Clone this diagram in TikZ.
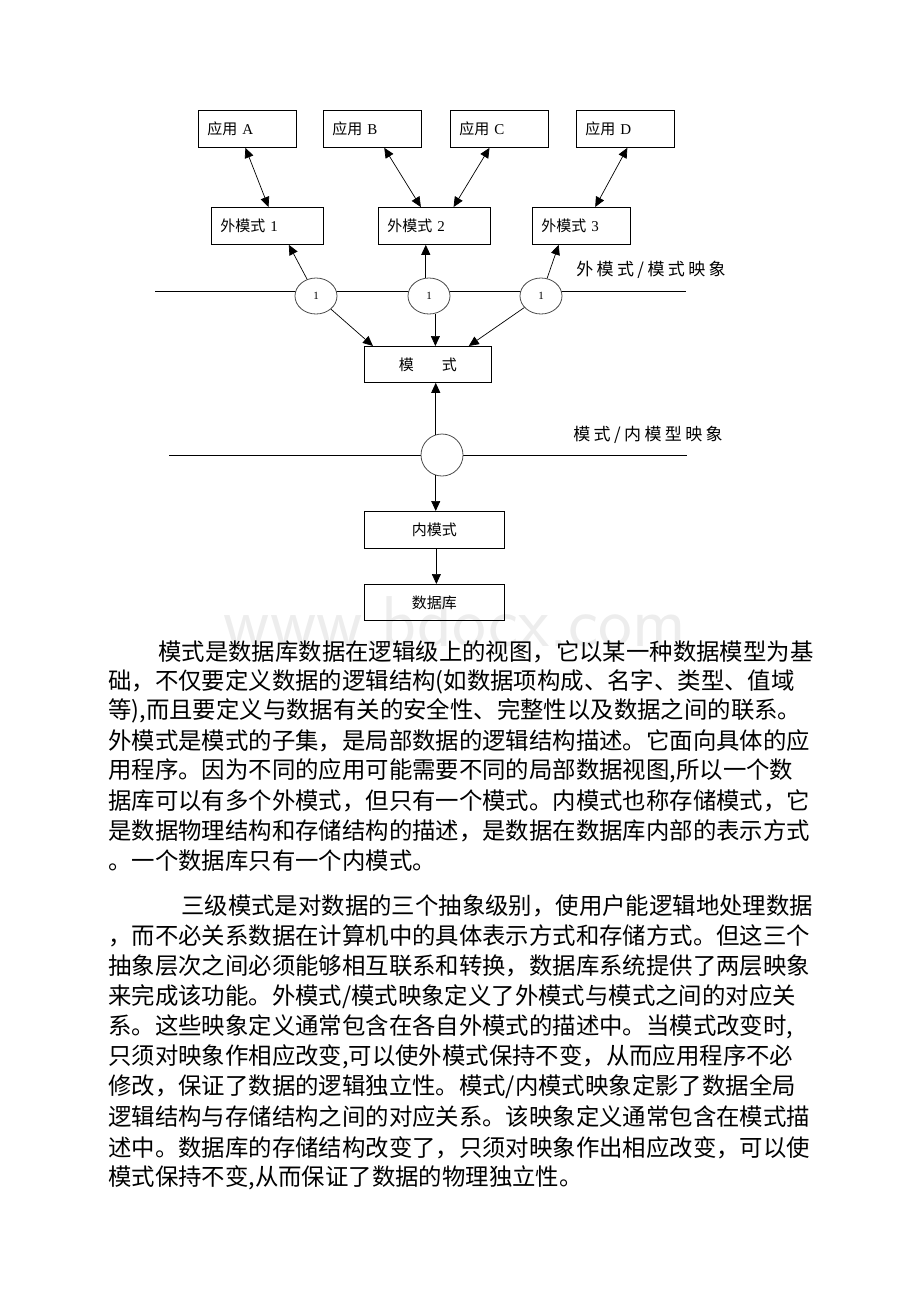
\documentclass[tikz,border=0pt]{standalone}
\usepackage{fontspec}
\setmainfont{Liberation Serif}
\newfontfamily\cjk{Noto Sans CJK SC}
\newfontfamily\cjklbl[LetterSpace=20]{Noto Sans CJK SC}
\usetikzlibrary{arrows.meta,calc,shapes.geometric}
% stretchable glue between CJK characters, for justified lines
\XeTeXinterchartoks 1 1 = {\hskip 0pt plus 1pt\relax}
\XeTeXinterchartoks 1 2 = {\hskip 0pt plus 1pt\relax}
\XeTeXinterchartoks 1 3 = {\hskip 0pt plus 1pt\relax}
\XeTeXinterchartoks 3 1 = {\hskip 0pt plus 1pt\relax}
\XeTeXinterchartoks 3 2 = {\hskip 0pt plus 1pt\relax}
\XeTeXinterchartoks 3 3 = {\hskip 0pt plus 1pt\relax}
\XeTeXinterchartoks 0 1 = {\hskip 0pt plus 1pt\relax}
\XeTeXinterchartoks 1 0 = {\hskip 0pt plus 1pt\relax}
\XeTeXinterchartoks 0 3 = {\hskip 0pt plus 1pt\relax}
\XeTeXinterchartoks 3 0 = {\hskip 0pt plus 1pt\relax}
\newcommand\parafont{\XeTeXinterchartokenstate=1 \cjk\fontsize{23.4}{23.4}\selectfont}
\newcommand\jline[2]{\hbox to #1{#2}}

\begin{document}
\begin{tikzpicture}[x=1pt,y=-1pt,
    box/.style={draw, line width=0.8pt, anchor=north west, inner xsep=9pt, inner ysep=0pt,
      minimum height=37pt, font=\cjk\fontsize{15}{15}\selectfont},
    map/.style={draw=black!70, fill=white, ellipse, inner sep=0pt, line width=0.8pt,
      minimum width=42pt, minimum height=36pt, font=\fontsize{11}{11}\selectfont},
    arr/.style={line width=0.7pt, -{Triangle[length=10pt,width=9pt]}},
    biarr/.style={line width=0.7pt, {Triangle[length=10pt,width=9pt]}-{Triangle[length=10pt,width=9pt]}},
    para/.style={anchor=west, inner sep=0pt, font=\parafont}]
  \useasboundingbox (0,0) rectangle (920,1302);

  % watermark
  \node[text=black!7, font=\sffamily\fontsize{72}{72}\selectfont] (wm) at (455,622) {www.bdocx.com};

  % applications
  \node[box, text width=80pt, align=left] (appA) at (198,110) {应用 {\rmfamily A}};
  \node[box, text width=80pt, align=left] (appB) at (323,110) {应用 {\rmfamily B}};
  \node[box, text width=80pt, align=left] (appC) at (450,110) {应用 {\rmfamily C}};
  \node[box, text width=80pt, align=left] (appD) at (576,110) {应用 {\rmfamily D}};

  % external schemas
  \node[box, text width=94pt, align=left] (ext1) at (211,207) {外模式 {\rmfamily 1}};
  \node[box, text width=94pt, align=left] (ext2) at (378,207) {外模式 {\rmfamily 2}};
  \node[box, text width=80pt, align=left] (ext3) at (532,207) {外模式 {\rmfamily 3}};

  % schema, internal schema, database
  \node[box, text width=109pt, align=center, minimum height=36pt] (schema) at (364,346) {模\hspace{28pt}式};
  \node[box, text width=122pt, align=center] (inner) at (364,511) {内模式};
  \node[box, text width=122pt, align=center, minimum height=36pt] (db) at (364,584) {数据库};

  % mapping lines
  \coordinate (l1a) at (155,291);
  \coordinate (l1b) at (686,291);
  \coordinate (l2a) at (169,455);
  \coordinate (l2b) at (687,455);
  \draw[line width=0.8pt] (l1a) -- (l1b);
  \draw[line width=0.8pt] (l2a) -- (l2b);
  \node[font=\cjklbl\fontsize{17}{17}\selectfont] (lbl1) at (651,270) {外模式/模式映象};
  \node[font=\cjklbl\fontsize{17}{17}\selectfont] (lbl2) at (648,435) {模式/内模型映象};

  \node[map] (m1) at (316,296) {1};
  \node[map] (m2) at (429,296) {1};
  \node[map] (m3) at (541,296) {1};
  \node[map, minimum height=42pt] (m4) at (442,455) {};

  % applications <-> external schemas
  \draw[biarr] ($(appA.south west)!.48!(appA.south east)$) -- ($(ext1.north west)!.51!(ext1.north east)$);
  \draw[biarr] ($(appB.south west)!.62!(appB.south east)$) -- ($(ext2.north west)!.38!(ext2.north east)$);
  \draw[biarr] ($(appC.south west)!.40!(appC.south east)$) -- ($(ext2.north west)!.67!(ext2.north east)$);
  \draw[biarr] ($(appD.south west)!.52!(appD.south east)$) -- ($(ext3.north west)!.64!(ext3.north east)$);

  % external/schema mapping
  \draw[arr] (m1) -- ($(ext1.south west)!.69!(ext1.south east)$);
  \draw[arr] (m2.100) -- (m2.100 |- ext2.south);
  \draw[arr] (m3) -- ($(ext3.south west)!.27!(ext3.south east)$);
  \draw[arr] (m1) -- ($(schema.north west)!.07!(schema.north east)$);
  \draw[arr] (m2.-70) -- (m2.-70 |- schema.north);
  \draw[arr] (m3) -- ($(schema.north west)!.82!(schema.north east)$);

  % schema/internal mapping
  \draw[arr] (m4.107) -- (m4.107 |- schema.south);
  \draw[arr] (m4.-107) -- (m4.-107 |- inner.north);
  \draw[arr] ($(inner.south west)!.514!(inner.south east)$) -- ($(db.north west)!.514!(db.north east)$);

  % text
  \node[para] (pa1) at (158,652) {\jline{645pt}{模式是数据库数据在逻辑级上的视图，它以某一种数据模型为基}};
  \node[para] (pa2) at (108,682) {\jline{684pt}{础，不仅要定义数据的逻辑结构(如数据项构成、名字、类型、值域}};
  \node[para] (pa3) at (108,711) {\jline{684pt}{等),而且要定义与数据有关的安全性、完整性以及数据之间的联系。}};
  \node[para] (pa4) at (108,741) {\jline{692pt}{外模式是模式的子集，是局部数据的逻辑结构描述。它面向具体的应}};
  \node[para] (pa5) at (108,771) {\jline{684pt}{用程序。因为不同的应用可能需要不同的局部数据视图,所以一个数}};
  \node[para] (pa6) at (108,801) {\jline{692pt}{据库可以有多个外模式，但只有一个模式。内模式也称存储模式，它}};
  \node[para] (pa7) at (108,831) {\jline{692pt}{是数据物理结构和存储结构的描述，是数据在数据库内部的表示方式}};
  \node[para] (pa8) at (108,861) {。一个数据库只有一个内模式。};

  \node[para] (pb1) at (181,906) {\jline{624pt}{三级模式是对数据的三个抽象级别，使用户能逻辑地处理数据}};
  \node[para] (pb2) at (108,936) {\jline{694pt}{，而不必关系数据在计算机中的具体表示方式和存储方式。但这三个}};
  \node[para] (pb3) at (108,966) {\jline{694pt}{抽象层次之间必须能够相互联系和转换，数据库系统提供了两层映象}};
  \node[para] (pb4) at (108,997) {来完成该功能。外模式/模式映象定义了外模式与模式之间的对应关};
  \node[para] (pb5) at (108,1027) {系。这些映象定义通常包含在各自外模式的描述中。当模式改变时,};
  \node[para] (pb6) at (108,1057) {只须对映象作相应改变,可以使外模式保持不变，从而应用程序不必};
  \node[para] (pb7) at (108,1087) {修改，保证了数据的逻辑独立性。模式/内模式映象定影了数据全局};
  \node[para] (pb8) at (108,1117) {\jline{694pt}{逻辑结构与存储结构之间的对应关系。该映象定义通常包含在模式描}};
  \node[para] (pb9) at (108,1148) {\jline{694pt}{述中。数据库的存储结构改变了，只须对映象作出相应改变，可以使}};
  \node[para] (pb10) at (108,1178) {模式保持不变,从而保证了数据的物理独立性。};
\end{tikzpicture}
\end{document}
